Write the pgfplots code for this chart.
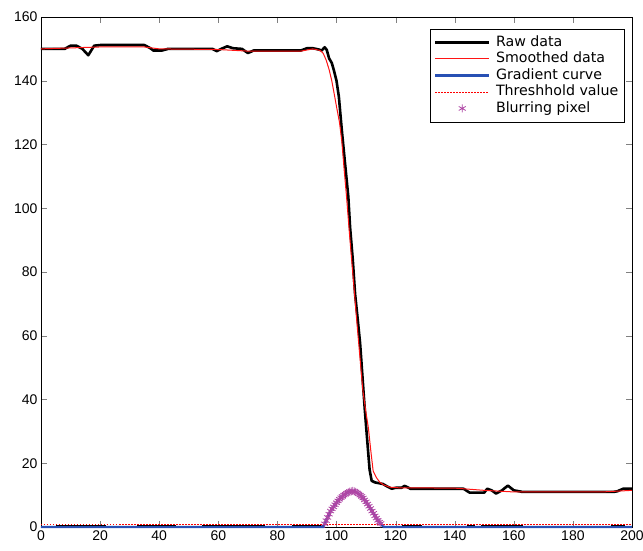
\documentclass[border=0pt]{standalone}
\usepackage{fontspec}
\setmainfont{DejaVu Sans}
\newfontfamily\tickfont{Liberation Sans}
\usepackage{pgfplots}
\pgfplotsset{compat=1.18}
\definecolor{starmag}{RGB}{175,70,165}
\definecolor{gradblue}{RGB}{40,80,180}
\definecolor{smred}{RGB}{255,20,20}
\begin{document}
\begin{tikzpicture}
\begin{axis}[
  scale only axis,
  width=591pt, height=510pt,
  xmin=0, xmax=200, ymin=0, ymax=160,
  xtick={0,20,...,200}, ytick={0,20,...,160},
  tick align=inside,
  major tick length=6pt,
  /pgf/number format/assume math mode=true,
  ticklabel style={font=\fontsize{14}{14}\selectfont\tickfont},
  clip=false,
  unbounded coords=jump,
  legend style={at={(1,1)}, anchor=north east, xshift=-8pt, yshift=-12pt,
    draw=black, fill=white, font=\fontsize{14.2}{16.5}\selectfont,
    row sep=0pt, inner xsep=4pt, inner ysep=5pt,
    nodes={text height=10.5pt, text depth=3pt, inner sep=1.5pt},
    column sep=4pt},
  legend cell align=left,
  legend image code/.code={\draw[mark repeat=2,mark phase=2,#1] plot coordinates {(0pt,0pt) (27pt,0pt) (54pt,0pt)};},
]
% Raw data
\addplot[draw=black, line width=2.6pt, line join=round] coordinates {
(0,150) (8,150) (10,151) (12,151) (14,150) (16,148) (18,151) (20,151.2) (35,151.2)
(37,150.2) (38,149.5) (41,149.5) (43,150) (58,150) (59.5,149.3) (61,150) (63,150.8)
(65,150.2) (68,150) (70,148.7) (72,149.5) (88,149.5) (90,150.2) (92,150.2) (94,149.8)
(95,149.5) (96,150.5) (96.7,149.7) (97.5,147) (98.4,145.6) (99.2,143) (100,140)
(100.8,135) (101.8,124.5) (102.9,114) (104,103.6) (104.6,94) (105.5,84) (106.3,73)
(107.2,65) (108,57.5) (108.8,47) (109.6,36.5) (110.5,26) (111.2,18) (111.9,14.5)
(113,14) (115.7,13.5) (117,12.8) (118.7,12) (120,12.3) (122,12.3) (123,12.9) (124,12.5)
(125,12) (143,12) (145,10.8) (150,10.8) (151,12) (152.5,11.5) (154,10.5) (156,11.5)
(158,13) (160,11.5) (163,11) (193.6,11) (195,11.2) (197,12) (200,12)
};
\addlegendentry{Raw data}
% Smoothed data
\addplot[draw=smred, line width=1pt] coordinates {
(0,150) (10,150.3) (20,150.6) (35,150.6) (40,150) (60,149.8) (70,149.3) (88,149.3)
(92,150) (94.5,149.5) (95.5,148.6) (96.5,146.5) (97.5,143.5) (98.4,140) (99.2,136)
(100,131.9) (101,127) (101.8,121) (102.6,112) (103.4,103.6) (104.3,93) (105.2,83)
(106.2,72) (107.1,62) (108,52.5) (108.9,43) (109.8,37) (110.8,31) (111.6,24)
(112.4,17.6) (113.5,15.5) (114.7,14) (116,13.2) (118,12.5) (121,12.3) (140,12.2)
(150,11.5) (160,11) (190,11) (200,11.5)
};
\addlegendentry{Smoothed data}
% Gradient curve
\addplot[draw=gradblue, line width=2.4pt] coordinates {
(0,0) (95.5,0) (96,1.0) (96.5,2.0) (97,3.0) (97.5,4.0) (98,5.0) (98.5,5.7) (99,6.3)
(99.5,7.0) (100,7.6) (100.5,8.2) (101,8.7) (101.5,9.2) (102,9.6) (102.5,10.0) (103,10.3)
(103.5,10.6) (104,10.9) (104.5,11.1) (105,11.2) (105.5,11.3) (106,11.2) (106.5,11.0)
(107,10.7) (107.5,10.4) (108,10.0) (108.5,9.6) (109,9.1) (109.5,8.5) (110,7.9)
(110.5,7.2) (111,6.5) (111.5,5.8) (112,5.0) (112.5,4.3) (113,3.5) (113.5,2.8)
(114,2.1) (114.5,1.5) (115,1.1) (115.5,0.5) (116,0) (200,0)
};
\addlegendentry{Gradient curve}
% black segments near zero
\addplot[draw=black, line width=0.9pt, forget plot] coordinates {
(5,0.45) (22,0.45) (nan,nan) (32.5,0.45) (45.7,0.45) (nan,nan) (54.5,0.45) (75.8,0.45)
(nan,nan) (85,0.45) (95.5,0.45) (nan,nan) (122,0.45) (129,0.45) (nan,nan) (144,0.45) (147,0.45)
(nan,nan) (149,0.45) (163,0.45) (nan,nan) (193,0.45) (197.7,0.45)
};
% Threshold value
\addplot[draw=red, line width=0.8pt, dash pattern=on 1.5pt off 1.5pt] coordinates {(0,0.95) (200,0.95)};
\addlegendentry{Threshhold value}
% Blurring pixel
\addplot[only marks, mark=asterisk, mark size=4pt, color=starmag, mark options={line width=0.8pt}] coordinates {
(96,1.0) (96.5,2.0) (97,3.0) (97.5,4.0) (98,5.0) (98.5,5.7) (99,6.3)
(99.5,7.0) (100,7.6) (100.5,8.2) (101,8.7) (101.5,9.2) (102,9.6) (102.5,10.0) (103,10.3)
(103.5,10.6) (104,10.9) (104.5,11.1) (105,11.2) (105.5,11.3) (106,11.2) (106.5,11.0)
(107,10.7) (107.5,10.4) (108,10.0) (108.5,9.6) (109,9.1) (109.5,8.5) (110,7.9)
(110.5,7.2) (111,6.5) (111.5,5.8) (112,5.0) (112.5,4.3) (113,3.5) (113.5,2.8)
(114,2.1) (114.5,1.5) (115,1.1)
};
\addlegendentry{Blurring pixel}
\coordinate (bl) at (rel axis cs:0,0);
\coordinate (tr) at (rel axis cs:1,1);
\end{axis}
\pgfresetboundingbox
\path ([shift={(-41pt,-23pt)}]bl) rectangle ([shift={(11pt,17pt)}]tr);
\end{tikzpicture}
\end{document}
